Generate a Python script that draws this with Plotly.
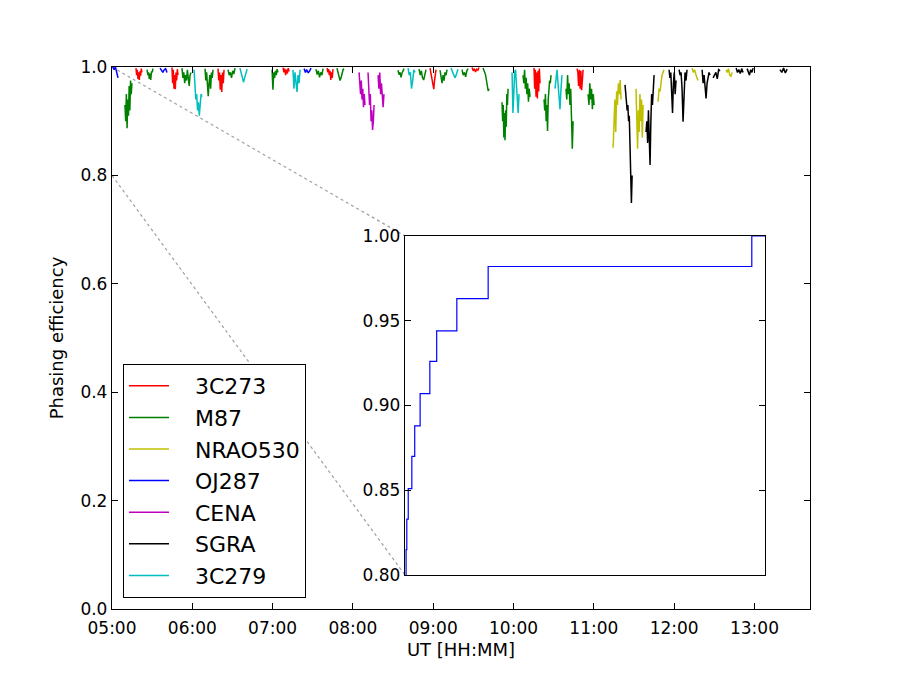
import pandas as pd
import plotly.graph_objects as go

BASE = pd.Timestamp("2017-04-11 05:00:00")

SOURCES = ["3C273", "M87", "NRAO530", "OJ287", "CENA", "SGRA", "3C279"]
COLORS = {"3C273": "#FF0000", "M87": "#008000", "NRAO530": "#BFBF00",
          "OJ287": "#0000FF", "CENA": "#BF00BF", "SGRA": "#000000", "3C279": "#00BFBF"}

# scans: (start minute after 05:00, end minute, phasing efficiency samples)
scans_3C273 = [
    (17.9, 22.4, [0.998, 0.985, 0.995, 0.978, 0.99, 0.976, 0.992, 0.984, 0.997, 0.99]),
    (44.8, 49.3, [0.999, 0.97, 0.995, 0.96, 0.985, 0.959, 0.99, 0.975, 0.996, 0.985]),
    (79.2, 83.7, [0.997, 0.975, 0.99, 0.958, 0.985, 0.954, 0.99, 0.97, 0.995]),
    (127.8, 132.3, [0.999, 0.99, 0.997, 0.985, 0.995, 0.988, 0.998, 0.992]),
    (160.7, 165.1, [0.998, 0.99, 0.996, 0.985, 0.993, 0.976, 0.99, 0.98, 0.996]),
    (237.6, 242.1, [0.998, 0.99, 0.985, 0.97, 0.965, 0.959, 0.975, 0.985, 0.995]),
    (269.0, 274.2, [0.999, 0.993, 0.997, 0.991, 0.996, 0.994, 0.999]),
    (315.3, 319.8, [0.998, 0.96, 0.995, 0.945, 0.99, 0.942, 0.993, 0.955, 0.997, 0.97]),
    (347.5, 352.0, [0.997, 0.99, 0.965, 0.995, 0.96, 0.993, 0.957, 0.99, 0.995]),
]
scans_M87 = [
    (9.7, 14.9, [0.93, 0.9, 0.95, 0.887, 0.94, 0.91, 0.965, 0.92, 0.975, 0.95, 0.97]),
    (26.2, 30.6, [0.995, 0.985, 0.99, 0.978, 0.988, 0.976, 0.992, 0.99, 0.997]),
    (52.3, 59.0, [0.998, 0.98, 0.99, 0.97, 0.985, 0.975, 0.995, 0.97, 0.965, 0.985, 0.99]),
    (69.5, 75.5, [0.997, 0.975, 0.99, 0.96, 0.946, 0.97, 0.985, 0.96, 0.99, 0.98, 0.995]),
    (86.7, 91.9, [0.995, 0.985, 0.99, 0.98, 0.993, 0.987, 0.998]),
    (119.6, 124.0, [0.995, 0.958, 0.99, 0.98, 0.993, 0.985, 0.996, 0.99]),
    (152.4, 157.7, [0.996, 0.986, 0.993, 0.981, 0.99, 0.985, 0.997]),
    (168.1, 173.4, [0.998, 0.99, 0.985, 0.975, 0.98, 0.99, 0.995, 0.997]),
    (213.7, 218.2, [0.994, 0.986, 0.99, 0.981, 0.989, 0.994, 0.997]),
    (229.4, 234.6, [0.996, 0.985, 0.993, 0.98, 0.976, 0.99, 0.995]),
    (245.1, 250.3, [0.994, 0.98, 0.97, 0.985, 0.975, 0.99, 0.985, 0.995]),
    (261.5, 266.0, [0.995, 0.985, 0.99, 0.982, 0.993, 0.997]),
    (277.2, 281.7, [0.998, 0.995, 0.99, 0.985, 0.975, 0.965, 0.956, 0.96]),
    (291.4, 295.9, [0.935, 0.9, 0.93, 0.87, 0.915, 0.865, 0.92, 0.89, 0.95, 0.93, 0.96]),
    (307.1, 312.3, [0.985, 0.97, 0.995, 0.96, 0.98, 0.95, 0.97, 0.936, 0.96, 0.945]),
    (322.8, 328.0, [0.94, 0.92, 0.95, 0.9, 0.93, 0.882, 0.94, 0.96, 0.975, 0.97, 0.985]),
    (339.2, 344.5, [0.96, 0.94, 0.985, 0.95, 0.97, 0.93, 0.96, 0.91, 0.849, 0.9]),
    (355.7, 360.2, [0.95, 0.93, 0.97, 0.94, 0.96, 0.922, 0.95, 0.93]),
]
scans_NRAO530 = [
    (374.4, 380.3, [0.851, 0.9, 0.94, 0.88, 0.955, 0.93, 0.97, 0.95, 0.976, 0.94]),
    (391.5, 396.8, [0.96, 0.9, 0.849, 0.92, 0.88, 0.95, 0.9, 0.94, 0.87, 0.93]),
    (408.0, 412.4, [0.936, 0.96, 0.955, 0.975, 0.985, 0.99, 0.995]),
    (433.4, 437.9, [0.998, 0.99, 0.995, 0.985, 0.98, 0.975]),
    (458.8, 463.3, [0.995, 0.99, 0.997, 0.985, 0.983, 0.99]),
]
scans_OJ287 = [
    (0.6, 4.5, [1.0, 0.995, 1.0, 0.99, 0.98]),
    (35.9, 41.1, [0.998, 0.993, 0.99, 0.995, 0.997, 0.99]),
    (143.5, 148.7, [0.997, 0.99, 0.995, 0.989, 0.993, 0.998]),
]
scans_CENA = [
    (184.6, 189.0, [0.99, 0.97, 0.95, 0.975, 0.94, 0.96, 0.926, 0.95, 0.93]),
    (191.3, 195.8, [0.99, 0.96, 0.93, 0.95, 0.9, 0.92, 0.884, 0.9, 0.93]),
    (198.8, 203.2, [0.985, 0.96, 0.99, 0.95, 0.97, 0.94, 0.926, 0.95]),
]
scans_SGRA = [
    (383.3, 388.6, [0.967, 0.95, 0.94, 0.92, 0.93, 0.9, 0.91, 0.87, 0.82, 0.749, 0.8]),
    (399.0, 405.0, [0.88, 0.9, 0.86, 0.92, 0.87, 0.819, 0.9, 0.95, 0.93, 0.97, 0.985]),
    (416.2, 421.4, [0.995, 0.98, 0.99, 0.96, 0.915, 0.97, 0.99, 0.95, 0.975]),
    (423.7, 429.6, [0.995, 0.985, 0.99, 0.96, 0.899, 0.97, 0.99, 0.975, 0.995]),
    (440.9, 446.8, [0.995, 0.97, 0.985, 0.96, 0.942, 0.97, 0.98, 0.99, 0.985]),
    (449.1, 454.3, [0.98, 0.985, 0.99, 0.978, 0.995, 0.993]),
    (466.3, 471.5, [0.998, 0.99, 0.995, 0.988, 0.997, 0.99]),
    (474.5, 479.0, [0.997, 0.99, 0.985, 0.995, 0.99, 0.998]),
    (499.1, 504.4, [0.995, 0.99, 0.998, 0.989, 0.996]),
]
scans_3C279 = [
    (61.3, 67.2, [0.995, 0.96, 0.94, 0.95, 0.92, 0.935, 0.91, 0.93, 0.95, 0.945]),
    (95.6, 100.9, [0.998, 0.99, 0.985, 0.972, 0.98, 0.99, 0.996]),
    (135.2, 140.5, [0.995, 0.96, 0.99, 0.975, 0.954, 0.985, 0.97, 0.995]),
    (221.2, 226.4, [0.998, 0.985, 0.99, 0.96, 0.975, 0.995, 0.99]),
    (253.3, 258.5, [0.998, 0.99, 0.985, 0.98, 0.99, 0.996]),
    (298.9, 304.1, [0.99, 0.915, 0.95, 0.99, 0.995, 0.97, 0.94, 0.915, 0.95]),
    (331.0, 336.2, [0.96, 0.98, 0.995, 0.97, 0.95, 0.922, 0.96, 0.985]),
]

# start of the first OJ287 scan (seconds after 05:00), shown in the zoomed inset
oj287_start_sec = [0.0, 0.09, 0.15, 0.27, 0.57, 0.81, 1.26, 2.07, 2.64, 4.32, 6.93, 28.9, 36.0]
oj287_start_val = [0.79, 0.815, 0.833, 0.851, 0.870, 0.888, 0.907, 0.926, 0.944, 0.963, 0.982, 1.0, 1.0]

SCANS = {"3C273": scans_3C273, "M87": scans_M87, "NRAO530": scans_NRAO530,
         "OJ287": scans_OJ287, "CENA": scans_CENA, "SGRA": scans_SGRA, "3C279": scans_3C279}


def ts(minutes):
    return BASE + pd.to_timedelta(minutes, unit="m")


fig = go.Figure()
for src in SOURCES:
    xs, ys = [], []
    for (t0, t1, vals) in SCANS[src]:
        n = len(vals)
        for i, v in enumerate(vals):
            xs.append(ts(t0 + (t1 - t0) * i / (n - 1)))
            ys.append(v)
        xs.append(None)
        ys.append(None)
    fig.add_trace(go.Scatter(x=xs, y=ys, mode="lines", name="\u00a0\u00a0\u00a0" + src, legendgroup=src,
                             line=dict(color=COLORS[src], width=1.5),
                             xaxis="x", yaxis="y"))

# inset trace (zoom on the start of the first OJ287 scan)
fig.add_trace(go.Scatter(x=[BASE + pd.to_timedelta(s, unit="s") for s in oj287_start_sec],
                         y=oj287_start_val, mode="lines",
                         line=dict(color="#0000FF", width=1.2, shape="hv"),
                         showlegend=False, xaxis="x2", yaxis="y2"))

FONT = "DejaVu Sans"
main_left, main_right = 112, 810
main_top, main_bottom = 67, 609
W, H = 900, 678
ins_l, ins_r, ins_t, ins_b = 405, 765, 236, 575
pw = main_right - main_left
ph = main_bottom - main_top
ix0 = (ins_l - main_left) / pw
ix1 = (ins_r - main_left) / pw
iy0 = (main_bottom - ins_b) / ph
iy1 = (main_bottom - ins_t) / ph

tickfont = dict(family=FONT, size=17, color="black")

fig.update_layout(
    width=W, height=H,
    margin=dict(l=main_left, r=W - main_right, t=main_top, b=H - main_bottom, pad=0),
    paper_bgcolor="white", plot_bgcolor="white",
    font=dict(family=FONT, size=17, color="black"),
    xaxis=dict(type="date", range=[ts(0), ts(521.5)], domain=[0, 1],
               tickformat="%H:%M", dtick=3600000, tick0=ts(0),
               ticks="inside", ticklen=6, tickwidth=1, tickcolor="black",
               showline=True, linecolor="black", linewidth=1.3, mirror="ticks",
               showgrid=False, zeroline=False, tickfont=tickfont, ticklabelstandoff=3,
               title=dict(text="UT [HH:MM]", font=dict(family=FONT, size=18), standoff=6)),
    yaxis=dict(range=[0, 1.0], domain=[0, 1], tickvals=[0, 0.2, 0.4, 0.6, 0.8, 1.0],
               tickformat=".1f", ticks="inside", ticklen=6, tickwidth=1, tickcolor="black",
               showline=True, linecolor="black", linewidth=1.3, mirror="ticks",
               showgrid=False, zeroline=False, tickfont=tickfont,
               title=dict(text="Phasing efficiency", font=dict(family=FONT, size=18), standoff=12)),
    xaxis2=dict(type="date", domain=[ix0, ix1], anchor="y2",
                range=[BASE, BASE + pd.to_timedelta(30, unit="s")],
                showticklabels=False, ticks="", showline=True, linecolor="black",
                linewidth=1.3, mirror=True, showgrid=False, zeroline=False),
    yaxis2=dict(domain=[iy0, iy1], anchor="x2", range=[0.8, 1.0],
                tickvals=[0.80, 0.85, 0.90, 0.95, 1.00], tickformat=".2f",
                ticks="inside", ticklen=6, tickwidth=1, tickcolor="black",
                showline=True, linecolor="black", linewidth=1.3, mirror="ticks",
                showgrid=False, zeroline=False, tickfont=tickfont),
    legend=dict(x=(123 - main_left) / pw, y=(main_bottom - 598) / ph, xanchor="left", yanchor="bottom",
                bgcolor="white", bordercolor="black", borderwidth=1,
                font=dict(family=FONT, size=22, color="black"), tracegroupgap=0,
                itemwidth=40),
    showlegend=True,
)

# connector lines from the zoomed region to the inset corners (y data 0..1 == paper 0..1)
for (ya, yb) in [(1.0, iy1), (0.8, iy0)]:
    fig.add_shape(type="line", xref="paper", yref="paper", x0=0, y0=ya, x1=ix0, y1=yb,
                  line=dict(color="#A0A0A0", width=1.2, dash="dot"), layer="below")

fig.write_html("out.html")
